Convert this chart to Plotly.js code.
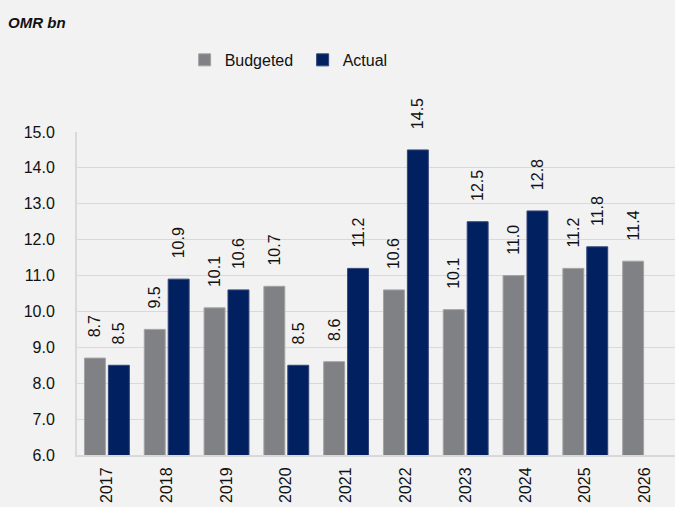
<!DOCTYPE html>
<html>
<head>
<meta charset="utf-8">
<script src="https://cdn.plot.ly/plotly-3.0.1.min.js"></script>
<style>html,body{margin:0;padding:0;background:#f2f2f2;}</style>
</head>
<body>
<div id="chart" style="width:675px;height:507px;"></div>
<script>
const years = ['2017','2018','2019','2020','2021','2022','2023','2024','2025','2026'];
const budgeted = [8.7, 9.5, 10.1, 10.7, 8.6, 10.6, 10.05, 11.0, 11.2, 11.4];
const actual = [8.5, 10.9, 10.6, 8.5, 11.2, 14.5, 12.5, 12.8, 11.8, null];
const yTicks = [6, 7, 8, 9, 10, 11, 12, 13, 14, 15];

const pad = '\u00a0\u00a0\u00a0\u00a0';
const labelFont = {family: 'Liberation Sans, Arial, sans-serif', size: 16, color: '#111'};

const traces = [
  {
    type: 'bar', name: 'Budgeted', x: years, y: budgeted,
    marker: {color: '#808184', line: {color: '#a3a3a6', width: 1}},
    texttemplate: pad + '%{y:.1f}', textposition: 'outside', textangle: -90,
    constraintext: 'none',
    textfont: labelFont, cliponaxis: false, hoverinfo: 'skip'
  },
  {
    type: 'bar', name: 'Actual', x: years, y: actual,
    marker: {color: '#002060', line: {color: '#33457a', width: 1}},
    texttemplate: pad + '%{y:.1f}', textposition: 'outside', textangle: -90,
    constraintext: 'none',
    textfont: labelFont, cliponaxis: false, hoverinfo: 'skip'
  }
];

const layout = {
  width: 675, height: 507,
  paper_bgcolor: '#f2f2f2', plot_bgcolor: '#f2f2f2',
  margin: {l: 77, r: 0, t: 132, b: 52},
  font: {family: 'Liberation Sans, Arial, sans-serif', size: 16, color: '#111'},
  title: {
    text: '<b><i>OMR bn</i></b>',
    xref: 'container', yref: 'container',
    x: 0.012, xanchor: 'left', y: 1 - 23/507, yanchor: 'middle',
    font: {family: 'Liberation Sans, Arial, sans-serif', size: 15, color: '#111'}
  },
  barmode: 'group', bargap: 0.2, bargroupgap: 0.125,
  showlegend: true,
  legend: {
    orientation: 'h', x: 0.18, xanchor: 'left', y: 1.223, yanchor: 'middle',
    font: {size: 16}, bgcolor: 'rgba(0,0,0,0)', entrywidth: 73, entrywidthmode: 'pixels',
    traceorder: 'normal'
  },
  xaxis: {
    type: 'category', tickangle: -90, showline: true, linecolor: '#d9d9d9', linewidth: 2,
    ticks: '', showgrid: false, tickfont: {size: 16}, ticklabelstandoff: 4, fixedrange: true
  },
  yaxis: {
    range: [6, 15], tickvals: yTicks, tickformat: '.1f', showline: true, linecolor: '#d9d9d9',
    linewidth: 2, showgrid: true, gridcolor: '#d9d9d9', gridwidth: 1, ticks: '',
    tickfont: {size: 16}, ticklabelstandoff: 17, zeroline: false, fixedrange: true
  }
};

Plotly.newPlot('chart', traces, layout, {staticPlot: true});
</script>
</body>
</html>
